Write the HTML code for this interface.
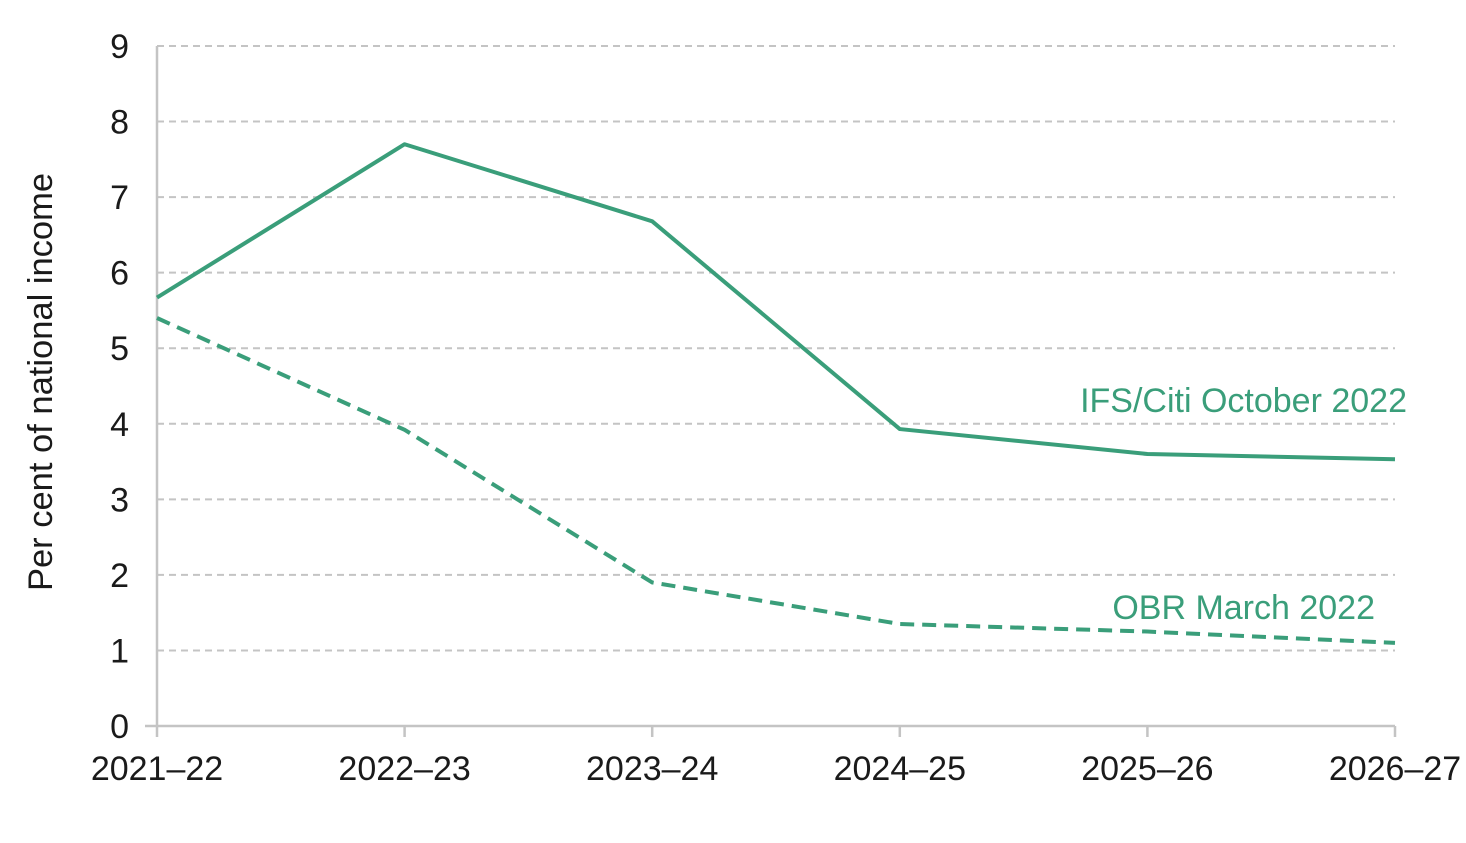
<!DOCTYPE html>
<html><head><meta charset="utf-8"><style>
body{margin:0;background:#fff;}
svg text{font-family:"Liberation Sans",Arial,sans-serif;fill:#1a1a1a;}
</style></head><body>
<svg id="c" width="1466" height="838"></svg>
<script>
const categories=["2021–22","2022–23","2023–24","2024–25","2025–26","2026–27"];
const ifsValues=[5.67,7.7,6.68,3.93,3.6,3.53];
const obrValues=[5.4,3.92,1.9,1.35,1.25,1.1];
const yTicks=[0,1,2,3,4,5,6,7,8,9];
const NS="http://www.w3.org/2000/svg";
const svg=document.getElementById('c');
const x=i=>157+i*(1395-157)/(categories.length-1);
const y=v=>726-v*(726-46)/9;
function mk(t,a,p){const e=document.createElementNS(NS,t);for(const k in a)e.setAttribute(k,a[k]);(p||svg).appendChild(e);return e;}
const grid=mk('g',{});


yTicks.forEach(v=>{
  if(v>0){const l=mk('line',{x1:157,x2:1395,y1:y(v),y2:y(v),stroke:'#c4c4c4','stroke-width':2,'stroke-dasharray':'7,5'},grid);
  
  }
  const t=mk('text',{x:129,y:y(v)+12,'text-anchor':'end','font-size':34});
  t.textContent=v;
  
  
});
const ya=mk('line',{x1:157,x2:157,y1:46,y2:726,stroke:'#c4c4c4','stroke-width':2.5});


const xa=mk('line',{x1:145,x2:1395,y1:726,y2:726,stroke:'#c4c4c4','stroke-width':2.5});


categories.forEach((c,i)=>{
  const tk=mk('line',{x1:x(i),x2:x(i),y1:726,y2:737,stroke:'#c4c4c4','stroke-width':2.5});
  
  
  const t=mk('text',{x:x(i),y:780,'text-anchor':'middle','font-size':34});
  t.textContent=c;
  
  
});
const yt=mk('text',{x:0,y:0,'text-anchor':'middle','font-size':34.5,transform:'translate(52,382) rotate(-90)'});
yt.textContent='Per cent of national income';


const col='#3a9e7a';
const p1=mk('polyline',{points:ifsValues.map((v,i)=>x(i)+','+y(v)).join(' '),fill:'none',stroke:col,'stroke-width':4,'stroke-linejoin':'round'});


const p2=mk('polyline',{points:obrValues.map((v,i)=>x(i)+','+y(v)).join(' '),fill:'none',stroke:col,'stroke-width':4,'stroke-dasharray':'14,8'});


const l1=mk('text',{x:1407,y:412,'text-anchor':'end','font-size':34});
l1.style.fill=col;l1.textContent='IFS/Citi October 2022';


const l2=mk('text',{x:1375,y:619,'text-anchor':'end','font-size':34});
l2.style.fill=col;l2.textContent='OBR March 2022';


</script>
</body></html>
